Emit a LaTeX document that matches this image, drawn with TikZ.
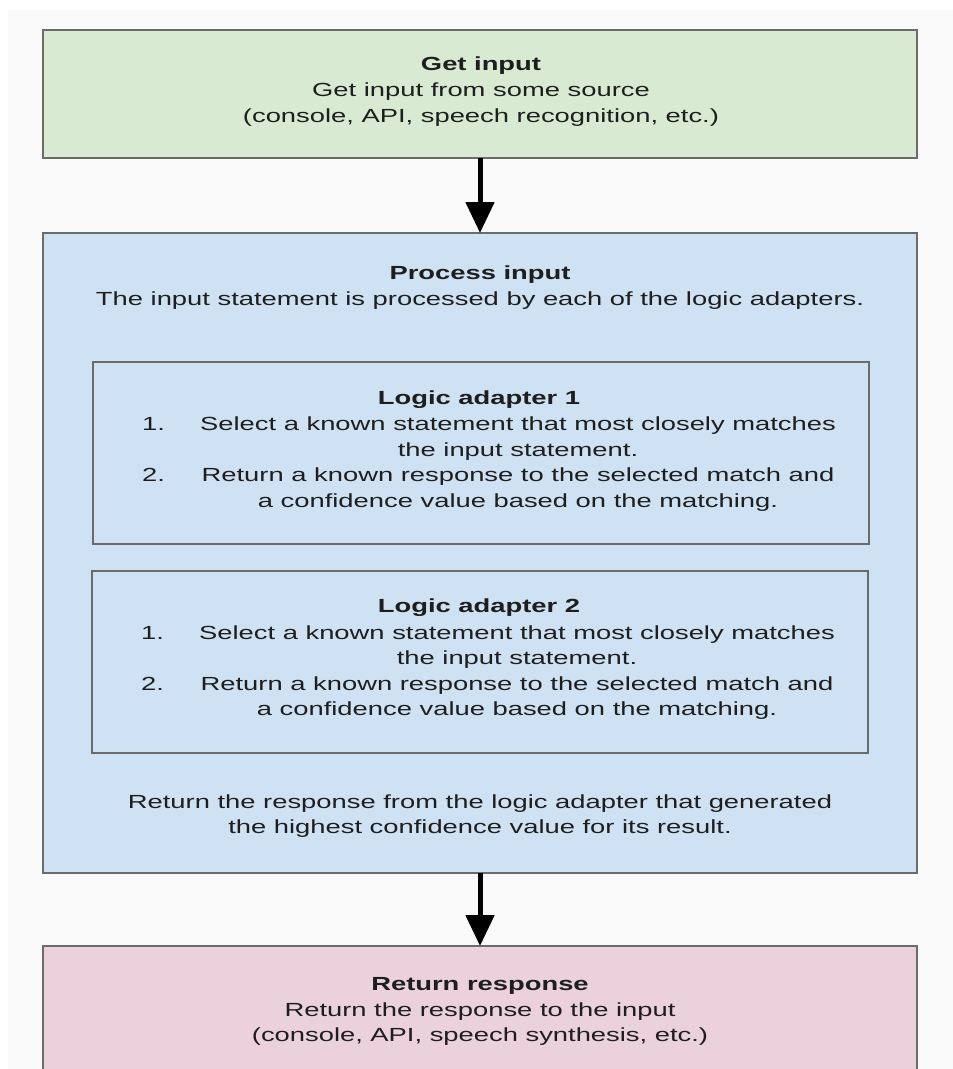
\documentclass[tikz,border=0pt]{standalone}
\usepackage{fontspec}
\setmainfont[FakeStretch=1.44]{Liberation Sans}
\usetikzlibrary{arrows.meta}
\definecolor{gfill}{HTML}{D9EAD3}
\definecolor{bfill}{HTML}{CFE2F3}
\definecolor{pfill}{HTML}{EAD1DC}
\definecolor{bordc}{HTML}{6B6B6B}
\definecolor{txtc}{HTML}{1E1E1E}
\definecolor{bgc}{HTML}{FAFAFA}
\begin{document}
\begin{tikzpicture}[x=1bp,y=-1bp,
  box/.style={draw=bordc, line width=1.6bp, inner sep=0pt, outer sep=0pt, anchor=north west},
  txt/.style={text=txtc, font=\fontsize{19bp}{25.7bp}\selectfont, align=center, anchor=base, inner sep=0pt},
  ttl/.style={txt, font=\fontsize{19bp}{25.7bp}\selectfont\bfseries},
  num/.style={txt, anchor=base west},
  arr/.style={-{Triangle[width=28bp,length=31bp]}, line width=5bp, black}]
\path[use as bounding box] (0,0) rectangle (953,1069);
\clip (0,0) rectangle (953,1069);
\fill[bgc] (8,10) rectangle (953,1069);
% boxes
\node[box, fill=gfill, minimum width=874bp, minimum height=128bp] (get) at (43,30) {};
\node[box, fill=bfill, minimum width=874bp, minimum height=640bp] (proc) at (43,233) {};
\node[box, fill=bfill, minimum width=776bp, minimum height=182bp] (la1) at (93,362) {};
\node[box, fill=bfill, minimum width=776bp, minimum height=182bp] (la2) at (92,571) {};
\node[box, fill=pfill, minimum width=874bp, minimum height=160bp] (ret) at (43,946) {};
% connectors
\draw[arr] (get) -- (proc);
\draw[arr] (proc) -- (ret);
% texts (base anchor of a two-line node = baseline of its last line)
\node[ttl] (gett) at (481,70.7) {Get input};
\node[txt] (getd) at (481,122.4) {Get input from some source\\(console, API, speech recognition, etc.)};
\node[ttl] (proct) at (480,279) {Process input};
\node[txt] (procd) at (480,305) {The input statement is processed by each of the logic adapters.};
\node[ttl] (la1t) at (479,404) {Logic adapter 1};
\node[num] (la1n1) at (142,430.7) {1.};
\node[txt] (la1i1) at (518,456.4) {Select a known statement that most closely matches\\the input statement.};
\node[num] (la1n2) at (142,481.5) {2.};
\node[txt] (la1i2) at (518,507.2) {Return a known response to the selected match and\\a confidence value based on the matching.};
\node[ttl] (la2t) at (479,612.4) {Logic adapter 2};
\node[num] (la2n1) at (141,639) {1.};
\node[txt] (la2i1) at (517,664.7) {Select a known statement that most closely matches\\the input statement.};
\node[num] (la2n2) at (141,690) {2.};
\node[txt] (la2i2) at (517,715.7) {Return a known response to the selected match and\\a confidence value based on the matching.};
\node[txt] (procr) at (480,833.7) {Return the response from the logic adapter that generated\\the highest confidence value for its result.};
\node[ttl] (rett) at (480,990) {Return response};
\node[txt] (retd) at (480,1041.7) {Return the response to the input\\(console, API, speech synthesis, etc.)};
\end{tikzpicture}
\end{document}
